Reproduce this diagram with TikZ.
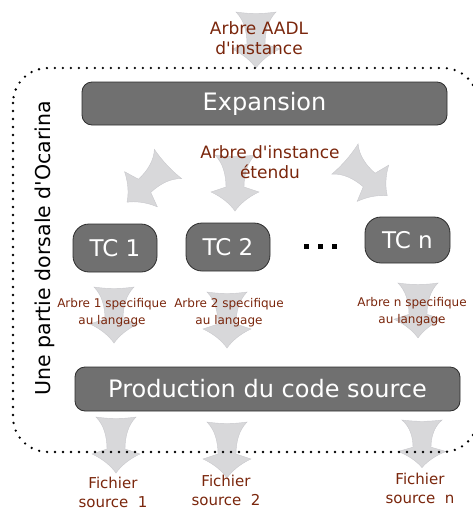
\documentclass[tikz,border=0pt]{standalone}
\usepackage{fontspec}
\setmainfont{DejaVu Sans}
\definecolor{boxgray}{RGB}{112,112,112}
\definecolor{boxedge}{RGB}{45,45,45}
\definecolor{flowgray}{RGB}{216,216,218}
\definecolor{flowedge}{RGB}{200,200,204}
\definecolor{datared}{RGB}{122,38,12}
\begin{document}
\begin{tikzpicture}[x=1pt,y=-1pt,
  stagebox/.style={draw=boxedge,line width=0.8pt,fill=boxgray,text=white,
    rounded corners=10pt,inner sep=0pt,font=\fontsize{24}{28}\selectfont},
  tcbox/.style={stagebox,rounded corners=16pt,font=\fontsize{23}{27}\selectfont},
  datalabel/.style={text=datared,align=center,inner sep=0pt,
    font=\fontsize{17}{19.5}\selectfont},
  smalllabel/.style={datalabel,font=\fontsize{12}{17}\selectfont},
  filelabel/.style={datalabel,font=\fontsize{15}{19}\selectfont},
  dotbox/.style={fill=black,minimum size=5pt,inner sep=0pt},
  flow/.pic={
    \path[fill=flowgray,draw=flowedge,line width=0.4pt]
      (-20,0) .. controls (-7,2) and (7,2) .. (20,0)
      .. controls (12,8) and (9,20) .. (9,32)
      -- (24,37) .. controls (13,42) and (5,49) .. (0,56)
      .. controls (-5,49) and (-13,42) .. (-24,37)
      -- (-9,32) .. controls (-9,20) and (-12,8) .. (-20,0) -- cycle;
  }]
\useasboundingbox (0,0) rectangle (472,512);

% block arrows carrying the trees between the stages
\pic at (256,12) {flow};
\pic at (235,155) {flow};
\pic[rotate=-47] at (168,164) {flow};
\pic[rotate=49] at (345,159) {flow};
\pic at (114,287) {flow};
\pic at (227,292) {flow};
\pic[yscale=0.98] at (418,283) {flow};
\pic at (116,417) {flow};
\pic at (227,422) {flow};
\pic[yscale=0.85] at (422,420) {flow};

% processing stages
\node[stagebox,minimum width=365pt,minimum height=43pt] (exp) at (264.5,103.5) {Expansion};
\node[tcbox,minimum width=84pt,minimum height=48pt] (tc1) at (115,248) {TC 1};
\node[tcbox,minimum width=84pt,minimum height=48pt] (tc2) at (228,247) {TC 2};
\node[tcbox,minimum width=85pt,minimum height=46pt] (tcn) at (407.5,240) {TC n};
\node[stagebox,minimum width=385pt,minimum height=44pt] (prod) at (267.5,389) {Production du code source};

% ellipsis between the code generators
\node[dotbox] (d1) at (306,246) {};
\node[dotbox] (d2) at (320,246) {};
\node[dotbox] (d3) at (334,246) {};

% intermediate data
\node[datalabel] (aadl) at (259,38) {Arbre AADL\\d\textquotesingle instance};
\node[datalabel] (ext) at (270,162) {Arbre d\textquotesingle instance\\étendu};
\node[smalllabel] (t1) at (112,313) {Arbre 1 specifique\\au langage};
\node[smalllabel] (t2) at (229,313) {Arbre 2 specifique\\au langage};
\node[smalllabel] (tn) at (412,312) {Arbre n specifique\\au langage};
\node[filelabel] (f1) at (113,492.5) {Fichier\\source~~1};
\node[filelabel] (f2) at (226,490.5) {Fichier\\source~~2};
\node[filelabel] (fn) at (420,488) {Fichier\\source~~n};

% backend boundary
\draw[line width=2.6pt,line cap=round,dash pattern=on 0pt off 8pt,rounded corners=35pt]
  (13,68) rectangle (478,452);
\node[rotate=90,inner sep=0pt,font=\fontsize{20.5}{24}\selectfont] (backend) at (45,248)
  {Une partie dorsale d\textquotesingle Ocarina};
\end{tikzpicture}
\end{document}
